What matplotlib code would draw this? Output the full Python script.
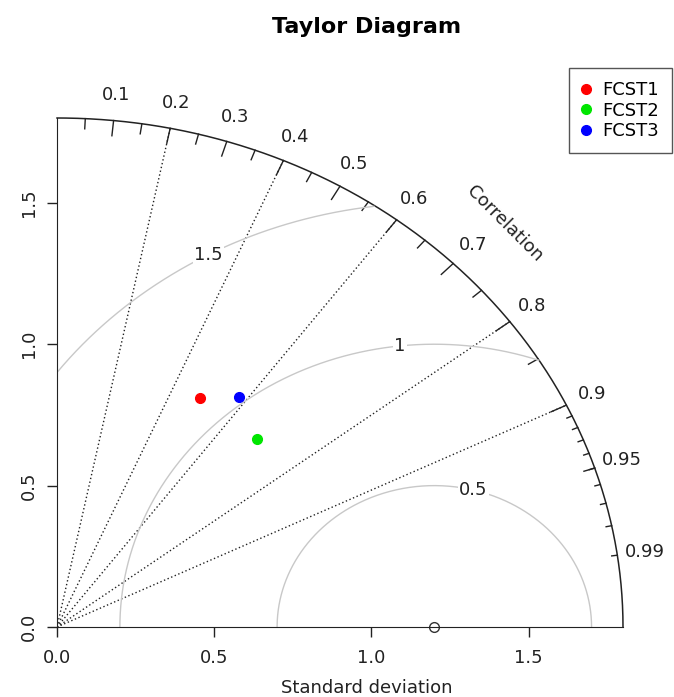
import numpy as np
from matplotlib import pyplot as plt
from matplotlib.lines import Line2D

# model stats
models = ['FCST1', 'FCST2', 'FCST3']
model_sd = [0.93, 0.92, 1.00]
model_cor = [0.49, 0.69, 0.58]
model_colors = ['#ff0000', '#00e600', '#0000ff']
ref_sd = 1.2
max_sd = 1.8

sd_ticks = [0.0, 0.5, 1.0, 1.5]
cor_labels = [0.1, 0.2, 0.3, 0.4, 0.5, 0.6, 0.7, 0.8, 0.9, 0.95, 0.99]
cor_lines = [0.2, 0.4, 0.6, 0.8, 0.9]
gammas = [0.5, 1.0, 1.5]

W, H = 674, 697
fig = plt.figure(figsize=(W / 100, H / 100), dpi=100)
ax = fig.add_axes([57 / W, 70 / H, 566 / W, 509 / H])
ax.set_xlim(0, max_sd)
ax.set_ylim(0, max_sd)

for side in ['top', 'right']:
    ax.spines[side].set_visible(False)
ax.spines['bottom'].set_bounds(0, max_sd)
ax.spines['left'].set_bounds(0, max_sd)
ax.spines['bottom'].set_color('#222222')
ax.spines['left'].set_color('#222222')
ax.set_xticks(sd_ticks)
ax.set_yticks(sd_ticks)
ax.set_xticklabels([f'{t:.1f}' for t in sd_ticks])
ax.set_yticklabels([f'{t:.1f}' for t in sd_ticks], rotation=90, va='center')
ax.tick_params(axis='both', direction='out', length=7, width=1,
               color='#222222', labelsize=13, labelcolor='#222222')
ax.tick_params(axis='x', pad=9)
ax.tick_params(axis='y', pad=7)

# outer arc
th = np.linspace(0, np.pi / 2, 300)
ax.plot(max_sd * np.cos(th), max_sd * np.sin(th), color='#222222', lw=1.1,
        clip_on=False)

# correlation tick marks
def ticks(cors, frac):
    for c in cors:
        a = np.arccos(c)
        ax.plot([max_sd * np.cos(a), frac * max_sd * np.cos(a)],
                [max_sd * np.sin(a), frac * max_sd * np.sin(a)],
                color='#222222', lw=1, clip_on=False)

ticks(np.arange(0.1, 0.91, 0.1), 0.97)
ticks(np.arange(0.05, 0.96, 0.1), 0.98)
ticks(np.arange(0.91, 0.995, 0.01), 0.99)

# dotted correlation lines
for c in cor_lines:
    ax.plot([0, max_sd * c], [0, max_sd * np.sqrt(1 - c * c)], color='#222222',
            lw=1, dashes=(1, 1.8))

# correlation labels
for c in cor_labels:
    a = np.arccos(c)
    ax.text(1.05 * max_sd * np.cos(a), 1.05 * max_sd * np.sin(a), f'{c:g}',
            ha='center', va='center', fontsize=13, color='#222222',
            clip_on=False)
ax.text(1.12 * max_sd * np.cos(np.pi / 4), 1.12 * max_sd * np.sin(np.pi / 4),
        'Correlation', rotation=-45, ha='center', va='center', fontsize=13,
        color='#222222', rotation_mode='anchor')

# centred RMS arcs around the reference
steps = np.arange(0, np.pi, 0.03)
label_idx = [44, 56, 69]
for g, li in zip(gammas, label_idx):
    t = np.linspace(0, np.pi, 600)
    xc = ref_sd + g * np.cos(t)
    yc = g * np.sin(t)
    keep = (xc >= 0) & (xc ** 2 + yc ** 2 <= max_sd ** 2)
    ax.plot(xc[keep], yc[keep], color='#c8c8c8', lw=1)
    ax.text(ref_sd + g * np.cos(steps[li]), g * np.sin(steps[li]), f'{g:g}',
            ha='center', va='center', fontsize=13, color='#222222',
            bbox=dict(facecolor='white', edgecolor='none', pad=1))

# reference point
ax.plot([ref_sd], [0], 'o', mfc='none', mec='#333333', ms=7, mew=1,
        clip_on=False)

# models
for name, s, c, col in zip(models, model_sd, model_cor, model_colors):
    ax.plot([s * c], [s * np.sqrt(1 - c * c)], 'o', color=col, ms=7)

handles = [Line2D([], [], marker='o', ls='none', color=col, ms=7)
           for col in model_colors]
leg = ax.legend(handles, models, loc='upper right', fontsize=13,
                bbox_to_anchor=(672 / W, 1 - 68 / H),
                bbox_transform=fig.transFigure, fancybox=False,
                framealpha=1, edgecolor='#555555', handlelength=0.4,
                handletextpad=0.7, borderpad=0.72, labelspacing=0.15,
                borderaxespad=0)
leg.get_frame().set_linewidth(1)

fig.text(367 / W, 1 - 27 / H, 'Taylor Diagram', ha='center', va='center',
         fontsize=16, fontweight='bold')
fig.text(367 / W, 1 - 688 / H, 'Standard deviation', ha='center',
         va='center', fontsize=13, color='#222222')

fig.savefig('out.png', dpi=100)
